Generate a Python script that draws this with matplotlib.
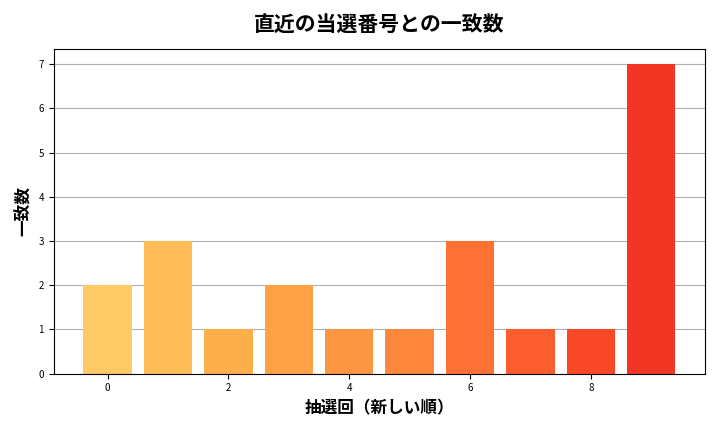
import numpy as np
import matplotlib.pyplot as plt

plt.rcParams['font.family'] = ['Noto Sans CJK JP', 'DejaVu Sans']

draws = np.arange(10)
matches = [2, 3, 1, 2, 1, 1, 3, 1, 1, 7]

colors = plt.cm.YlOrRd(np.linspace(0.3, 0.68, len(draws)))

fig, ax = plt.subplots(figsize=(7.2, 4.32), dpi=100)
ax.bar(draws, matches, color=colors, zorder=2)
ax.grid(axis='y', color='#b0b0b0', linewidth=0.8, zorder=0)
ax.set_title('直近の当選番号との一致数', fontsize=15, fontweight='bold', pad=12)
ax.set_xlabel('抽選回（新しい順）', fontsize=12, fontweight='bold')
ax.set_ylabel('一致数', fontsize=12, fontweight='bold')
ax.tick_params(labelsize=7)
fig.tight_layout()
fig.savefig('out.png')
